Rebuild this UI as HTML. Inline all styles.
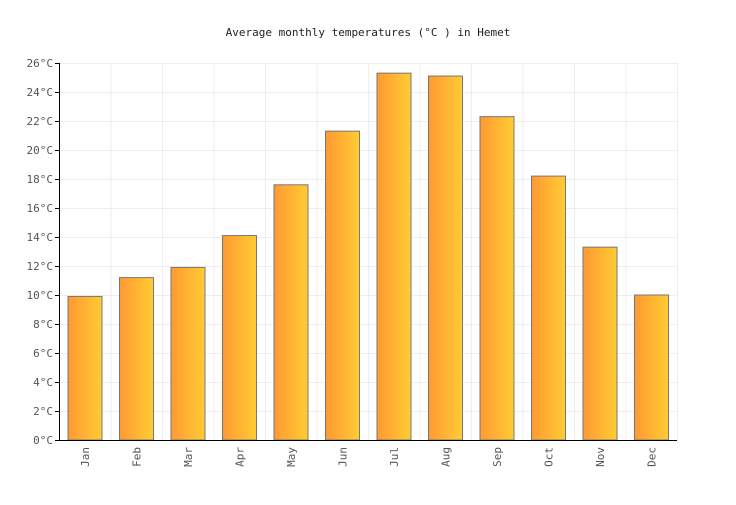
<!DOCTYPE html>
<html><head><meta charset="utf-8"><style>
body{margin:0;background:#fff;}
svg text{font-family:"DejaVu Sans Mono","Liberation Mono",monospace;font-size:11px;fill:#555;}
</style></head><body>
<svg width="736" height="500" xmlns="http://www.w3.org/2000/svg">
<defs><linearGradient id="g" x1="0" x2="1" y1="0" y2="0"><stop offset="0" stop-color="#ff9933"/><stop offset="1" stop-color="#ffcc33"/></linearGradient></defs>
<text x="368" y="36" text-anchor="middle" style="fill:#222;font-size:11px">Average monthly temperatures (°C ) in Hemet</text>
<g id="grid"></g><g id="bars"></g><g id="axes"></g>
</svg>
<script>
const months=["Jan","Feb","Mar","Apr","May","Jun","Jul","Aug","Sep","Oct","Nov","Dec"];
const temps=[9.9,11.2,11.9,14.1,17.6,21.3,25.3,25.1,22.3,18.2,13.3,10.0];
const yTicks=[0,2,4,6,8,10,12,14,16,18,20,22,24,26];
const NS="http://www.w3.org/2000/svg";
const L=59,R=677,T=63,B=440,yMax=26;
const bw=(R-L)/months.length;
const y=v=>B-(v/yMax)*(B-T);
const x=i=>L+i*bw;
function mk(t,a,p){const e=document.createElementNS(NS,t);for(const k in a)e.setAttribute(k,a[k]);p.appendChild(e);return e;}
const grid=document.getElementById('grid'),bars=document.getElementById('bars'),axes=document.getElementById('axes');
yTicks.forEach(v=>{
 const l=mk('line',{x1:L,x2:R,y1:y(v)+0.5,y2:y(v)+0.5,stroke:'#eee'},grid);
 
 
 const tk=mk('line',{x1:L-4,x2:L,y1:y(v)+0.5,y2:y(v)+0.5,stroke:'#000'},axes);
 
 
 const t=mk('text',{x:L-6,y:y(v)+4,'text-anchor':'end'},axes);t.textContent=v+'°C';
 
 
});
for(let i=0;i<=months.length;i++){
 const l=mk('line',{x1:x(i)+0.5,x2:x(i)+0.5,y1:T,y2:B,stroke:'#eee'},grid);
 
 
}
months.forEach((m,i)=>{
 const r=mk('rect',{x:x(i)+9,y:y(temps[i]),width:34,height:B-y(temps[i]),fill:'url(#g)',stroke:'#777','stroke-width':1},bars);
 
 
 const cx=x(i)+bw/2;
 const t=mk('text',{x:cx+4,y:447,'text-anchor':'end',transform:`rotate(-90 ${cx+4} 447)`},axes);t.textContent=m;
 
 
});
const ax=mk('line',{x1:L+0.5,x2:L+0.5,y1:T,y2:B+1,stroke:'#000'},axes);


const bx=mk('line',{x1:L,x2:R,y1:B+0.5,y2:B+0.5,stroke:'#000'},axes);


</script>
</body></html>
